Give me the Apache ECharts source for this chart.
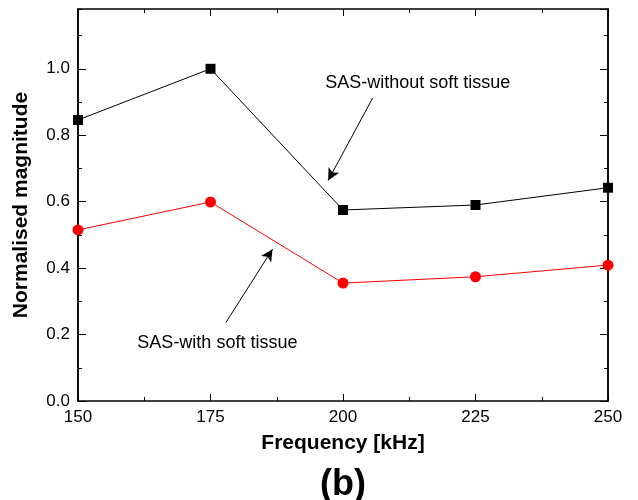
<!DOCTYPE html>
<html>
<head>
<meta charset="utf-8">
<script src="https://cdn.jsdelivr.net/npm/echarts@6/dist/echarts.min.js"></script>
<style>html,body{margin:0;padding:0;background:#fff}#c{width:638px;height:500px}</style>
</head>
<body>
<div id="c"></div>
<script>
const frequencies = [150, 175, 200, 225, 250];
const withoutTissue = [0.846, 1.0, 0.575, 0.590, 0.642];
const withTissue = [0.515, 0.599, 0.355, 0.374, 0.409];
const xTicks = [150, 175, 200, 225, 250];
const yTicks = [0.0, 0.2, 0.4, 0.6, 0.8, 1.0];
const labelWithout = 'SAS-without soft tissue';
const labelWith = 'SAS-with soft tissue';
const arrowWithout = [[205.6, 0.912], [197.2, 0.664]];
const arrowWith = [[177.9, 0.236], [186.7, 0.457]];
const textWithoutPos = [214.1, 0.957];
const textWithPos = [176.3, 0.175];

const font = 'Liberation Sans, Arial, sans-serif';
const Y_MAX = 1.18;

function yAx(pos, interval, len, labels) {
  return {
    type: 'value', min: 0, max: Y_MAX, interval: interval, position: pos,
    axisLine: {show: true, onZero: false, lineStyle: {color: '#000', width: 1.5}},
    axisTick: {show: true, inside: true, length: len, lineStyle: {color: '#000', width: 1}},
    axisLabel: {show: labels, showMaxLabel: false, color: '#000', fontSize: 17, fontFamily: font, margin: 8,
      formatter: v => yTicks.some(t => Math.abs(t - v) < 1e-9) ? v.toFixed(1) : ''},
    splitLine: {show: false},
    name: labels && pos === 'left' ? 'Normalised magnitude' : '',
    nameLocation: 'middle', nameGap: 46,
    nameTextStyle: {fontSize: 21, fontWeight: 'bold', fontFamily: font, color: '#000'}
  };
}
function xAx(pos, labels) {
  return {
    type: 'value', min: 150, max: 250, interval: 25, position: pos,
    axisLine: {show: true, onZero: false, lineStyle: {color: '#000', width: 1.5}},
    axisTick: {show: true, inside: true, length: 7, lineStyle: {color: '#000', width: 1}},
    minorTick: {show: true, splitNumber: 2, length: 4, lineStyle: {color: '#000', width: 1}},
    axisLabel: {show: labels, color: '#000', fontSize: 17, fontFamily: font, margin: 8,
      formatter: v => xTicks.indexOf(v) >= 0 ? String(v) : ''},
    splitLine: {show: false},
    name: labels ? 'Frequency [kHz]' : '',
    nameLocation: 'middle', nameGap: 32,
    nameTextStyle: {fontSize: 21, fontWeight: 'bold', fontFamily: font, color: '#000'}
  };
}

const chart = echarts.init(document.getElementById('c'), null, {renderer: 'canvas'});
chart.setOption({
  animation: false,
  backgroundColor: '#fff',
  grid: {left: 78, right: 30, top: 9, bottom: 99},
  title: {text: '(b)', left: 338, textAlign: 'center', top: 462,
    textStyle: {fontSize: 36, fontWeight: 'bold', fontFamily: font, color: '#000'}},
  xAxis: [xAx('bottom', true), xAx('top', false)],
  yAxis: [yAx('left', 0.2, 8, true), yAx('left', 0.1, 4, false), yAx('right', 0.2, 8, false), yAx('right', 0.1, 4, false)],
  series: [
    {type: 'line', xAxisIndex: 0, yAxisIndex: 0,
      data: frequencies.map((f, i) => [f, withoutTissue[i]]),
      symbol: 'rect', symbolSize: 10, itemStyle: {color: '#000'},
      lineStyle: {color: '#000', width: 1},
      markLine: {silent: true, symbol: ['none', 'arrow'], symbolSize: [9, 12],
        lineStyle: {color: '#000', width: 1, type: 'solid'}, label: {show: false},
        data: [[{coord: arrowWithout[0]}, {coord: arrowWithout[1]}], [{coord: arrowWith[0]}, {coord: arrowWith[1]}]]},
      markPoint: {symbol: 'circle', symbolSize: 0, silent: true,
        label: {show: true, position: 'inside', color: '#000', fontSize: 18, fontFamily: font},
        data: [{coord: textWithoutPos, label: {formatter: labelWithout}}, {coord: textWithPos, label: {formatter: labelWith}}]}
    },
    {type: 'line', xAxisIndex: 0, yAxisIndex: 0,
      data: frequencies.map((f, i) => [f, withTissue[i]]),
      symbol: 'circle', symbolSize: 11, itemStyle: {color: '#ff0000'},
      lineStyle: {color: '#ff0000', width: 1}}
  ]
});
</script>
</body>
</html>
